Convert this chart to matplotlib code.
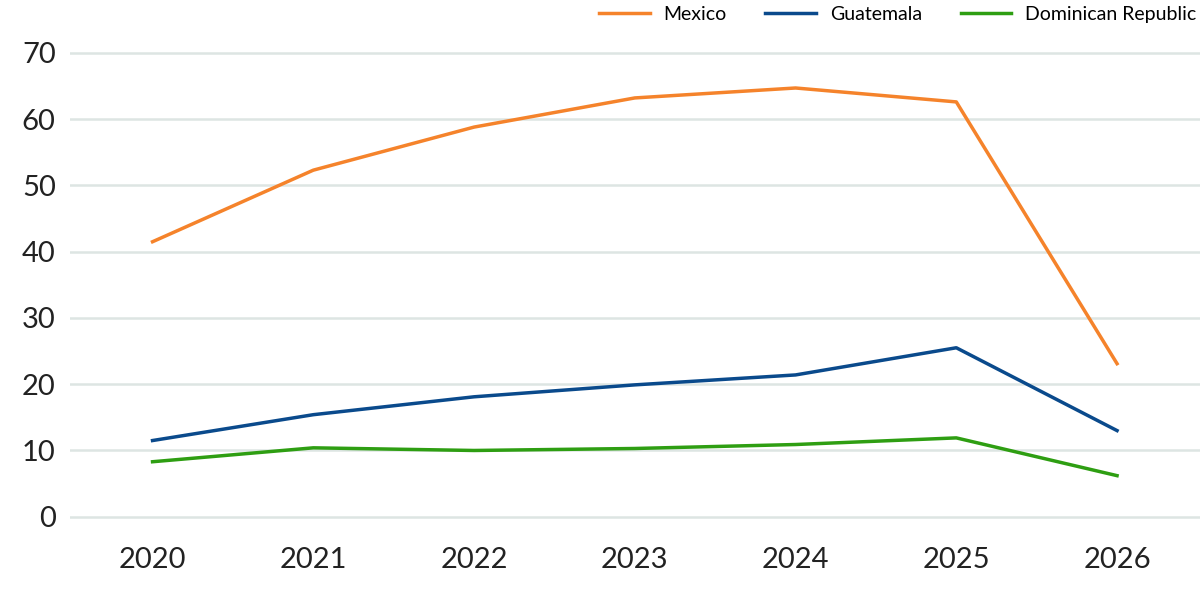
import matplotlib
matplotlib.use('Agg')
import matplotlib.pyplot as plt

years = [2020, 2021, 2022, 2023, 2024, 2025, 2026]
mexico = [41.5, 52.3, 58.8, 63.2, 64.7, 62.6, 23.1]
guatemala = [11.5, 15.4, 18.1, 19.9, 21.4, 25.5, 13.0]
dominican = [8.3, 10.4, 10.0, 10.3, 10.9, 11.9, 6.2]

plt.rcParams['font.family'] = ['Lato', 'DejaVu Sans']

fig = plt.figure(figsize=(12, 6.02), dpi=100)
ax = fig.add_axes([0.058, 0.1196, 0.942, 0.8256])

ax.plot(years, mexico, color='#f5832b', lw=2.5, label='Mexico')
ax.plot(years, guatemala, color='#0a4a8c', lw=2.5, label='Guatemala')
ax.plot(years, dominican, color='#2e9e12', lw=2.5, label='Dominican Republic')

ax.set_xlim(2019.484, 2026.516)
ax.set_ylim(-2, 73)
ax.set_yticks(range(0, 71, 10))
ax.set_xticks(years)
ax.grid(axis='y', color='#dde5e3', lw=1.8)
ax.set_axisbelow(True)
for s in ax.spines.values():
    s.set_visible(False)
ax.tick_params(length=0, labelsize=21, colors='#222222')
ax.tick_params(axis='x', pad=12)
ax.tick_params(axis='y', pad=10)

ax.legend(loc='upper right', bbox_to_anchor=(1.012, 1.09), ncol=3, frameon=False,
          fontsize=14, handlelength=2.6, handletextpad=0.7, columnspacing=2.0)

fig.savefig('out.png', dpi=100)
